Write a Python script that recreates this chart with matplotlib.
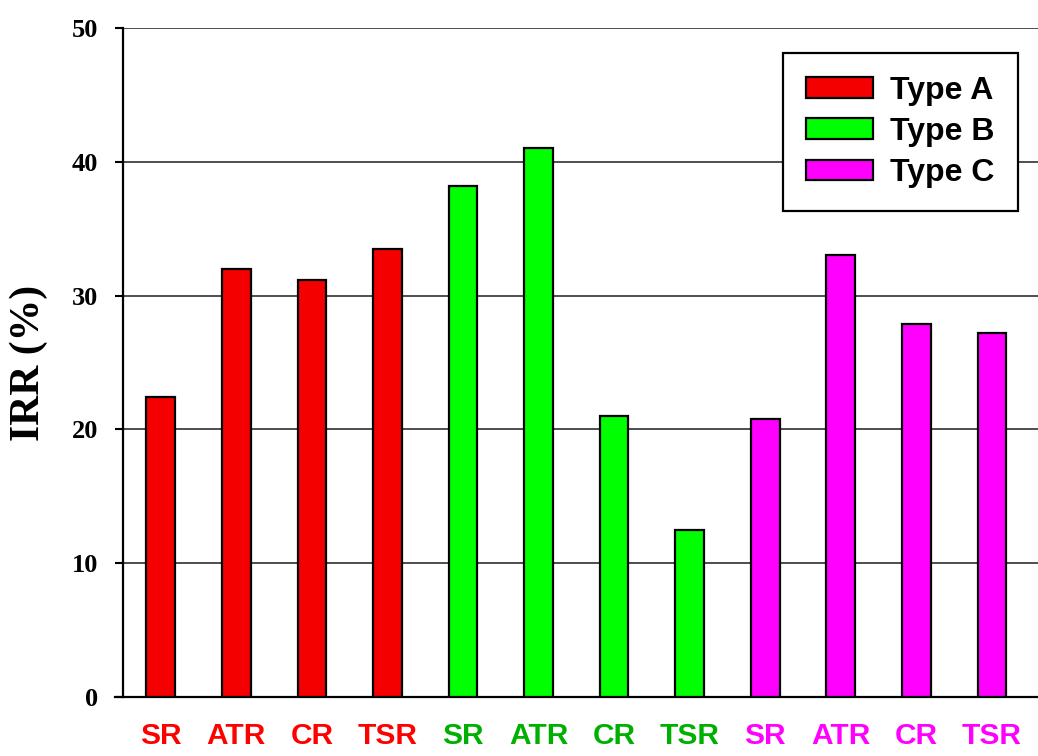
import numpy as np
import matplotlib
matplotlib.use("Agg")
import matplotlib.pyplot as plt

# values
methods = ['SR', 'ATR', 'CR', 'TSR']
types = ['Type A', 'Type B', 'Type C']
irr_a = [22.4, 32.0, 31.2, 33.5]
irr_b = [38.2, 41.0, 21.0, 12.5]
irr_c = [20.8, 33.0, 27.9, 27.2]

bar_colors = ['#f50000', '#00ff00', '#ff00ff']
text_colors = ['#ff0000', '#00b000', '#ff00ff']

fig = plt.figure(figsize=(10.38, 7.56), dpi=100)
ax = fig.add_axes([123/1038, 59/756, 915/1038, 669/756])

width = 0.38
series = [irr_a, irr_b, irr_c]
labels = []
label_cols = []
for i, (vals, name) in enumerate(zip(series, types)):
    x = np.arange(len(vals)) + i*len(methods)
    ax.bar(x, vals, width, color=bar_colors[i], edgecolor='black',
           linewidth=1.6, label=name, zorder=3)
    labels += methods
    label_cols += [text_colors[i]]*len(methods)

n = len(labels)
ax.set_xticks(np.arange(n))
ax.set_xticklabels(labels, fontfamily='Liberation Sans', fontweight='bold', fontsize=21.5)
for t, c in zip(ax.get_xticklabels(), label_cols):
    t.set_color(c)
ax.tick_params(axis='x', length=0, pad=18)
ax.set_xlim(-0.5, 11.61)

ax.set_ylim(0, 50)
ax.set_yticks(range(0, 51, 10))
ax.set_yticklabels([str(v) for v in range(0, 51, 10)],
                   fontfamily='Liberation Serif', fontweight='bold', fontsize=19)
ax.tick_params(axis='y', direction='out', length=6, width=1.5, pad=12)
ax.set_ylabel('IRR (%)', fontfamily='Liberation Serif', fontweight='bold', fontsize=30)
ax.yaxis.set_label_coords(-0.082, 0.5)

ax.grid(axis='y', color='#303030', linewidth=1.2, zorder=0)
ax.spines['top'].set_visible(False)
ax.spines['right'].set_visible(False)
ax.spines['left'].set_linewidth(1.6)
ax.spines['bottom'].set_linewidth(1.6)
ax.spines['bottom'].set_bounds(-0.6, 11.61)
ax.spines['bottom'].set_clip_on(False)

leg = ax.legend(loc='upper right', bbox_to_anchor=(0.978, 0.963),
                prop={'family': 'Liberation Sans', 'weight': 'bold', 'size': 23},
                fancybox=False, framealpha=1, edgecolor='black',
                handlelength=2.1, handleheight=0.62, handletextpad=0.55,
                labelspacing=0.35, borderpad=0.72, borderaxespad=0)
leg.get_frame().set_linewidth(1.6)
leg.set_zorder(5)

plt.savefig('out.png', dpi=100)
